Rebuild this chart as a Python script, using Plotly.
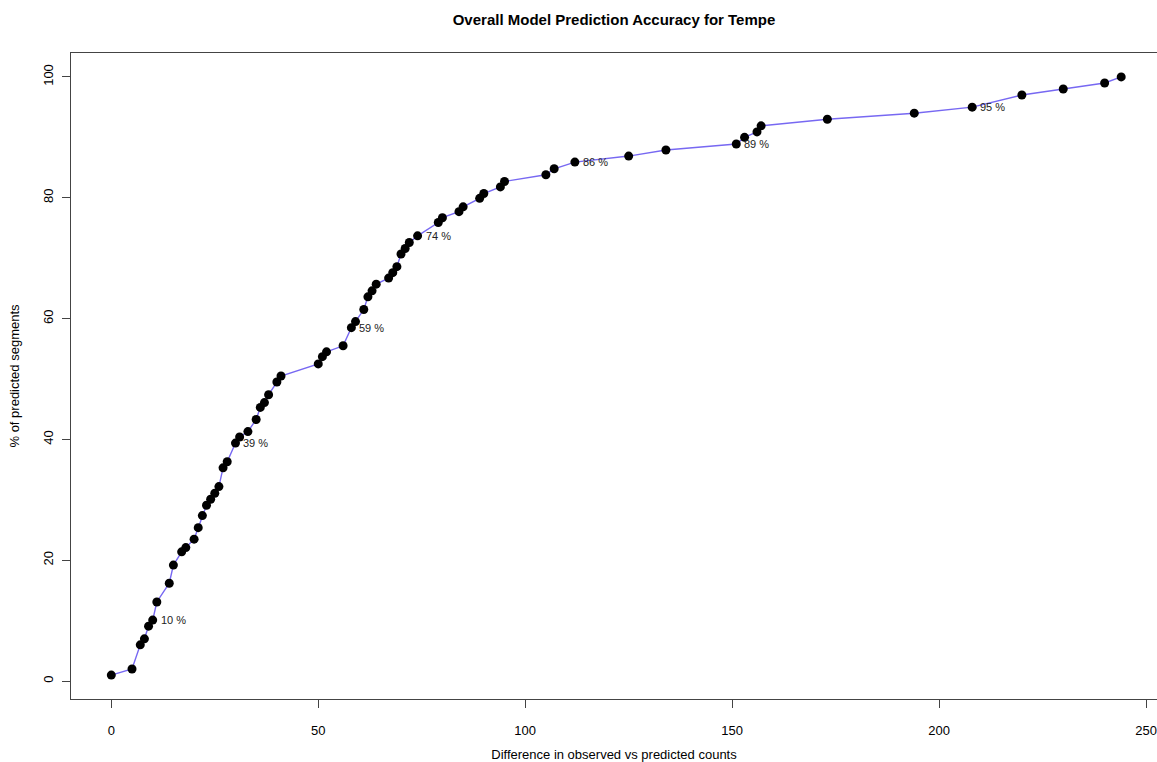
import plotly.graph_objects as go

# Difference in observed vs predicted counts (x) and cumulative % of predicted segments (y)
diff_counts = [0, 5, 7, 8, 9, 10, 11, 14, 15, 17,
               18, 20, 21, 22, 23, 24, 25, 26, 27, 28,
               30, 31, 33, 35, 36, 37, 38, 40, 41, 50,
               51, 52, 56, 58, 59, 61, 62, 63, 64, 67,
               68, 69, 70, 71, 72, 74, 79, 80, 84, 85,
               89, 90, 94, 95, 105, 107, 112, 125, 134, 151,
               153, 156, 157, 173, 194, 208, 220, 230, 240, 244]
pct_segments = [1.0, 2.0, 6.0, 7.0, 9.1, 10.1, 13.1, 16.2, 19.2, 21.4,
                22.1, 23.5, 25.4, 27.4, 29.1, 30.1, 31.1, 32.2, 35.3, 36.3,
                39.4, 40.4, 41.3, 43.3, 45.3, 46.1, 47.4, 49.5, 50.5, 52.5,
                53.7, 54.5, 55.5, 58.5, 59.5, 61.5, 63.6, 64.6, 65.7, 66.7,
                67.6, 68.6, 70.7, 71.6, 72.6, 73.7, 75.9, 76.7, 77.7, 78.5,
                79.9, 80.7, 81.8, 82.7, 83.8, 84.8, 85.9, 86.9, 87.9, 88.9,
                90.0, 90.9, 91.9, 93.0, 94.0, 95.0, 97.0, 98.0, 99.0, 100.0]

label_index = [5, 20, 33, 45, 56, 59, 65]
label_text = ["10 %", "39 %", "59 %", "74 %", "86 %", "89 %", "95 %"]

x_ticks = [0, 50, 100, 150, 200, 250]
y_ticks = [0, 20, 40, 60, 80, 100]

FONT = "Liberation Sans, Arial, sans-serif"

fig = go.Figure()
fig.add_trace(go.Scatter(
    x=diff_counts, y=pct_segments, mode="lines+markers",
    line=dict(color="#7768f2", width=1.4),
    marker=dict(color="black", size=9),
    showlegend=False, hoverinfo="x+y",
))

for i, t in zip(label_index, label_text):
    fig.add_annotation(x=diff_counts[i], y=pct_segments[i], text=t,
                       showarrow=False, xanchor="left", yanchor="middle",
                       xshift=6, font=dict(family=FONT, size=11, color="#222"))

fig.update_layout(
    width=1157, height=762,
    margin=dict(l=71, r=0, t=53, b=63, autoexpand=False),
    paper_bgcolor="white", plot_bgcolor="white",
    font=dict(family=FONT, size=13, color="black"),
    title=dict(text="<b>Overall Model Prediction Accuracy for Tempe</b>",
               x=0.5, xref="paper", xanchor="center",
               y=1 - 20 / 762, yref="container", yanchor="middle",
               font=dict(family=FONT, size=15, color="black")),
    xaxis=dict(range=[-9.74, 252.65], tickvals=x_ticks,
               ticktext=[str(v) for v in x_ticks],
               showgrid=False, zeroline=False, automargin=False,
               showline=True, linecolor="#444", linewidth=1, mirror=True,
               ticks="outside", ticklen=8, tickcolor="#444", tickwidth=1,
               ticklabelstandoff=11,
               tickfont=dict(family=FONT, size=13, color="black"),
               title=dict(text="Difference in observed vs predicted counts",
                          font=dict(family=FONT, size=13, color="black"),
                          standoff=13)),
    yaxis=dict(range=[-2.96, 103.96], tickvals=y_ticks,
               ticktext=[str(v) for v in y_ticks],
               showgrid=False, zeroline=False, automargin=False,
               showline=True, linecolor="#444", linewidth=1, mirror=False,
               ticks="outside", ticklen=8, tickcolor="#444", tickwidth=1,
               tickangle=-90, ticklabelstandoff=4,
               tickfont=dict(family=FONT, size=13, color="black"),
               title=dict(text="% of predicted segments",
                          font=dict(family=FONT, size=13, color="black"),
                          standoff=18)),
)

fig.write_html(
    "out.html",
    config={"displayModeBar": False},
    post_script="document.body.style.margin='0';"
                "document.body.style.overflow='hidden';"
                "document.documentElement.style.overflow='hidden';",
)
